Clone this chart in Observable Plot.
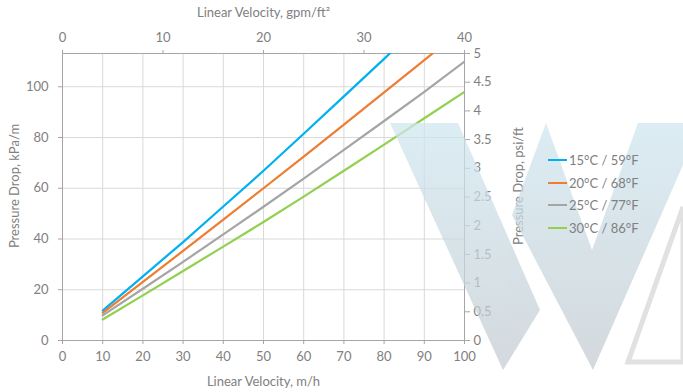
<!DOCTYPE html>
<html>
<head>
<meta charset="utf-8">
<script src="https://cdn.jsdelivr.net/npm/d3@7"></script>
<script src="https://cdn.jsdelivr.net/npm/@observablehq/plot@0.6"></script>
<style>
  html, body { margin: 0; padding: 0; background: #fff; }
  #wrap { position: relative; width: 683px; height: 392px; overflow: hidden; font-family: Lato, "Open Sans", sans-serif; }
  #wm { position: absolute; left: 0; top: 0; pointer-events: none; }
  #legend { position: absolute; left: 548px; top: 149px; font-size: 13px; color: #808080; }
  #legend .row { display: flex; align-items: center; height: 22.5px; }
  #legend .sw { width: 19px; height: 2px; margin-right: 2px; }
</style>
</head>
<body>
<div id="wrap"></div>
<script>
// ---- data ----
const velocity = [10, 20, 30, 40, 50, 60, 70, 80, 90, 100]; // m/h
const dp15 = [11.8, 25.3, 38.8, 52.8, 66.9, 81.5, 96.2, 111.0, 126.0, 141.0]; // kPa/m
const dp20 = [10.9, 23.1, 35.3, 47.6, 60.0, 72.5, 85.1, 97.8, 110.5, 123.3];
const dp25 = [9.9, 20.4, 31.0, 41.8, 52.7, 63.8, 75.1, 86.5, 98.0, 109.9];
const dp30 = [8.3, 17.8, 27.4, 37.0, 46.7, 56.7, 66.9, 77.2, 87.6, 98.0];
const seriesNames = ["15°C / 59°F", "20°C / 68°F", "25°C / 77°F", "30°C / 86°F"];
const seriesColors = ["#00B0F0", "#ED7D31", "#A5A5A5", "#92D050"];

const bottomTicks = [0, 10, 20, 30, 40, 50, 60, 70, 80, 90, 100]; // m/h
const topTicks = [0, 10, 20, 30, 40];                                // gpm/ft²
const leftTicks = [0, 20, 40, 60, 80, 100];                          // kPa/m
const rightTicks = [0, 0.5, 1, 1.5, 2, 2.5, 3, 3.5, 4, 4.5, 5];      // psi/ft

const psi = 22.62;          // 1 psi/ft in kPa/m
const topScale = 2.5;       // top axis 0–40 spans bottom 0–100
const yMax = 5 * psi;

const allSeries = [dp15, dp20, dp25, dp30];
const table = seriesNames.flatMap((name, j) =>
  velocity.map((v, i) => ({ v, dp: allSeries[j][i], name })));

const grey = "#808080";
const axisGrey = "#a6a6a6";
const gridGrey = "#d9d9d9";

const chart = Plot.plot({
  width: 683, height: 392,
  marginLeft: 62, marginRight: 219, marginTop: 53, marginBottom: 52,
  x: { domain: [0, 100] },
  y: { domain: [0, yMax] },
  color: { domain: seriesNames, range: seriesColors },
  style: { fontFamily: "Lato, 'Open Sans', sans-serif", fontSize: "13px", color: grey, background: "white" },
  marks: [
    Plot.gridX(bottomTicks.filter(d => d > 0 && d < 100), { stroke: gridGrey, strokeOpacity: 1 }),
    Plot.gridY(leftTicks.filter(d => d > 0), { stroke: gridGrey, strokeOpacity: 1 }),
    Plot.frame({ stroke: axisGrey }),
    Plot.line(table, { x: "v", y: "dp", z: "name", stroke: "name", strokeWidth: 2.2, clip: true }),
    Plot.axisX(bottomTicks, { anchor: "bottom", tickSize: 4, tickPadding: 7, label: null, stroke: axisGrey, fill: grey, fontSize: 13 }),
    Plot.axisX(topTicks.map(d => d * topScale), { anchor: "top", tickSize: 4, tickPadding: 8, label: null, tickFormat: d => String(Math.round(d / topScale)), stroke: axisGrey, fill: grey, fontSize: 13 }),
    Plot.axisY(leftTicks, { anchor: "left", tickSize: 4, tickPadding: 10, label: null, stroke: axisGrey, fill: grey, fontSize: 13 }),
    Plot.axisY(rightTicks.map(d => d * psi), { anchor: "right", tickSize: 5, tickPadding: 4, label: null, tickFormat: d => String(Math.round(d / psi * 10) / 10), stroke: axisGrey, fill: grey, fontSize: 13 }),
    Plot.text(["Linear Velocity, m/h"], { text: d => d, frameAnchor: "bottom", dy: 41, lineAnchor: "middle", textAnchor: "middle", fill: grey, fontSize: 13 }),
    Plot.text(["Linear Velocity, gpm/ft²"], { text: d => d, frameAnchor: "top", dy: -41, lineAnchor: "middle", textAnchor: "middle", fill: grey, fontSize: 13 }),
    Plot.text(["Pressure Drop, kPa/m"], { text: d => d, frameAnchor: "left", dx: -48, dy: -11, rotate: -90, lineAnchor: "middle", textAnchor: "middle", fill: grey, fontSize: 13 }),
    Plot.text(["Pressure Drop, psi/ft"], { text: d => d, frameAnchor: "right", dx: 54, dy: -11, rotate: -90, lineAnchor: "middle", textAnchor: "middle", fill: grey, fontSize: 13 })
  ]
});

const wrap = document.getElementById("wrap");
wrap.appendChild(chart);

// decorative watermark (not data)
wrap.insertAdjacentHTML("beforeend", `
<svg id="wm" width="683" height="392" viewBox="0 0 683 392">
  <defs>
    <linearGradient id="wg" x1="0" y1="0" x2="0" y2="1">
      <stop offset="0" stop-color="#cfe6f0"/>
      <stop offset="1" stop-color="#c3cbd1"/>
    </linearGradient>
  </defs>
  <g opacity="0.72" fill="url(#wg)">
    <polygon points="390,123 458,123 540,310 503,370"/>
    <polygon points="546,123 512,215 593,370 683,165 683,123 638,123 592,250"/>
  </g>
  <polygon points="628,362 683,362 683,207" fill="white" stroke="#dedede" stroke-width="5" opacity="0.9"/>
</svg>`);

// legend
const legend = document.createElement("div");
legend.id = "legend";
seriesNames.forEach((n, i) => {
  const row = document.createElement("div");
  row.className = "row";
  row.innerHTML = `<span class="sw" style="background:${seriesColors[i]}"></span><span>${n}</span>`;
  legend.appendChild(row);
});
wrap.appendChild(legend);
</script>
</body>
</html>
